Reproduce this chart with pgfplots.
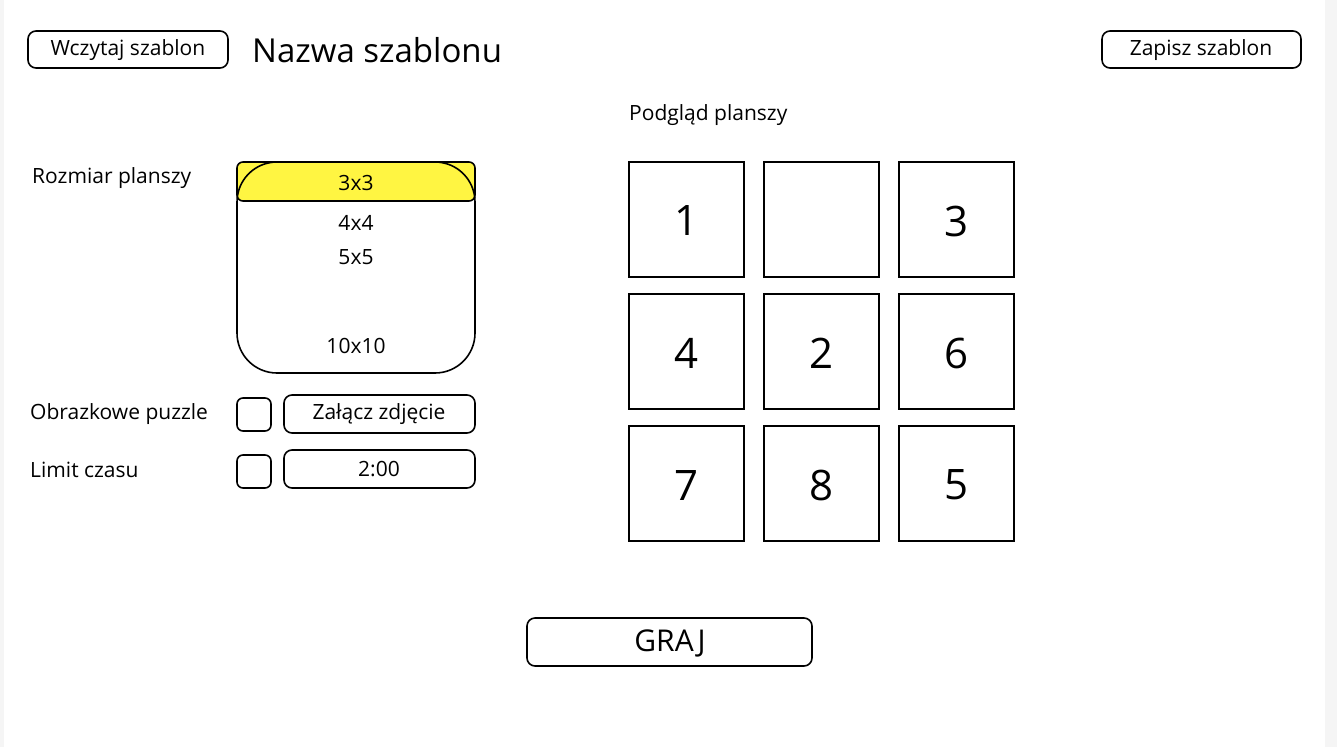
\documentclass[border=0pt]{standalone}
\usepackage{pgfplots}
\pgfplotsset{compat=1.18}
\usepackage{fontspec}
\setmainfont{Open Sans}
\definecolor{hl}{HTML}{FFF542}
\newcommand{\fs}[1]{\fontsize{#1}{#1}\selectfont}
\newcommand{\cell}[3]{\draw[line width=1.6pt] (axis cs:#1,#2) rectangle (axis cs:#1+115,#2+115);
  \node[font=\fs{42}] at (axis cs:#1+57.5,#2+59) {#3};}
\begin{document}
\begin{tikzpicture}
\begin{axis}[scale only axis, width=1337pt, height=747pt, xmin=0, xmax=1337, ymin=0, ymax=747, y dir=reverse, hide axis, clip=false]
\fill[gray!8] (axis cs:0,0) rectangle (axis cs:1337,747);
\fill[white] (axis cs:4,0) rectangle (axis cs:1325,747);
\tikzset{bx/.style={line width=1.6pt, rounded corners=8pt}}
\draw[bx] (axis cs:28,31) rectangle (axis cs:228,68);
\node[font=\fs{21}] at (axis cs:128,50) {Wczytaj szablon};
\node[font=\fs{33}, anchor=west, inner sep=0] at (axis cs:252,50) {Nazwa szablonu};
\draw[bx] (axis cs:1102,31) rectangle (axis cs:1301,68);
\node[font=\fs{21}] at (axis cs:1201,50) {Zapisz szablon};
\node[font=\fs{21}, anchor=west, inner sep=0] at (axis cs:629,115) {Podgląd planszy};
\node[font=\fs{21}, anchor=west, inner sep=0] at (axis cs:32,178) {Rozmiar planszy};
\fill[hl, rounded corners=6pt] (axis cs:237,162) rectangle (axis cs:475,201);
\draw[line width=1.6pt, rounded corners=6pt] (axis cs:237,162) rectangle (axis cs:475,201);
\draw[line width=1.6pt, rounded corners=40pt] (axis cs:237,162) rectangle (axis cs:475,373);
\node[font=\fs{21}] at (axis cs:356,183) {3x3};
\node[font=\fs{21}] at (axis cs:356,223) {4x4};
\node[font=\fs{21}] at (axis cs:356,257) {5x5};
\node[font=\fs{21}] at (axis cs:356,346) {10x10};
\node[font=\fs{21}, anchor=west, inner sep=0] at (axis cs:30,414) {Obrazkowe puzzle};
\draw[bx, rounded corners=6pt] (axis cs:237,398) rectangle (axis cs:271,431);
\draw[bx] (axis cs:284,395) rectangle (axis cs:475,433);
\node[font=\fs{21}] at (axis cs:379,414) {Załącz zdjęcie};
\node[font=\fs{21}, anchor=west, inner sep=0] at (axis cs:30,470) {Limit czasu};
\draw[bx, rounded corners=6pt] (axis cs:237,455) rectangle (axis cs:271,488);
\draw[bx] (axis cs:284,450) rectangle (axis cs:475,488);
\node[font=\fs{21}] at (axis cs:379,469) {2:00};
\cell{629}{162}{1}\cell{764}{162}{}\cell{899}{162}{3}
\cell{629}{294}{4}\cell{764}{294}{2}\cell{899}{294}{6}
\cell{629}{426}{7}\cell{764}{426}{8}\cell{899}{426}{5}
\draw[bx] (axis cs:527,618) rectangle (axis cs:812,666);
\node[font=\fs{30}] at (axis cs:670,643) {GRAJ};
\end{axis}
\end{tikzpicture}
\end{document}
